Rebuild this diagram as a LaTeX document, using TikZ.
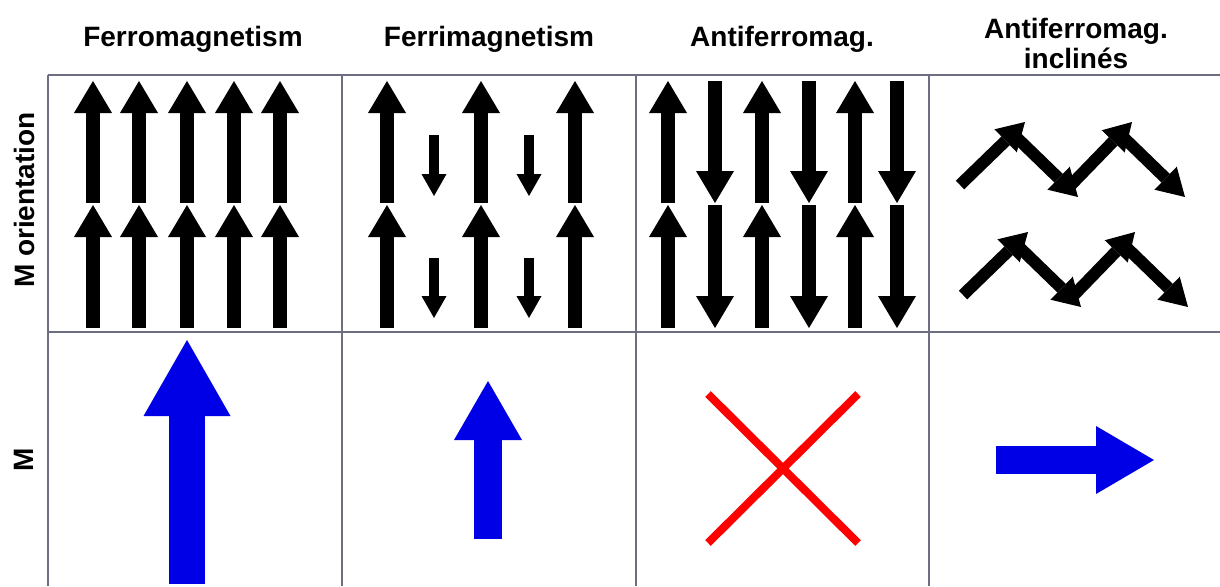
\documentclass[tikz,border=0pt]{standalone}
\usepackage{fontspec}
\setmainfont{Liberation Sans}
\usetikzlibrary{arrows.meta}
\definecolor{grille}{RGB}{110,110,130}
\definecolor{bleuM}{RGB}{0,0,230}
\begin{document}
\begin{tikzpicture}[x=1pt, y=-1pt,
                    titre/.style={font=\fontsize{28}{30}\selectfont\bfseries, align=center, inner sep=0pt},
                    trait/.style={grille, line width=1.5pt},
                    spin/.style={line width=14pt, -{Triangle[length=32pt, width=38pt, line width=0pt]}},
                    petitspin/.style={line width=10pt, -{Triangle[length=22pt, width=25pt, line width=0pt]}},
                    spinincl/.style={line width=12pt, -{Triangle[length=27pt, width=32pt, line width=0pt]}},
                    resultante/.style={bleuM, -{Triangle[length=#1, width=68pt, line width=0pt]}}
                ]
                \useasboundingbox (0,0) rectangle (1220,586);

                % Titres des colonnes et des lignes
                \node[titre, anchor=base] (titreFerro) at (193,47) {Ferromagnetism};
                \node[titre, anchor=base] (titreFerri) at (489,47) {Ferrimagnetism};
                \node[titre, anchor=base] (titreAF) at (782,47) {Antiferromag.};
                \node[titre, anchor=base] (titreIncl) at (1076,68) {Antiferromag.\\inclinés};
                \node[titre, rotate=90] (ligneOrient) at (24,200) {M orientation};
                \node[titre, rotate=90] (ligneM) at (24,460) {M};

                % Grille du tableau
                \draw[trait] (48,75) -- (1220,75) (48,332) -- (1220,332);
                \foreach \x in {48,342,636,929}
                    \draw[trait] (\x,75) -- (\x,586);

                % Ferromagnetisme : tous les spins paralleles
                \foreach \x in {93,139,187,234,280} {
                    \draw[spin] (\x,203) -- (\x,81);
                    \draw[spin] (\x,328) -- (\x,205);
                }
                \draw[bleuM, line width=36pt, -{Triangle[length=76pt, width=87pt, line width=0pt]}] (187,584) -- (187,340);

                % Ferrimagnetisme : spins opposes de tailles differentes
                \foreach \x in {387,481,575} {
                    \draw[spin] (\x,203) -- (\x,81);
                    \draw[spin] (\x,328) -- (\x,205);
                }
                \foreach \x in {434,529} {
                    \draw[petitspin] (\x,135) -- (\x,196);
                    \draw[petitspin] (\x,258) -- (\x,318);
                }
                \draw[resultante=59pt, line width=28pt] (488,539) -- (488,381);

                % Antiferromagnetisme : aimantation nulle
                \foreach \x in {668,762,855} {
                    \draw[spin] (\x,203) -- (\x,81);
                    \draw[spin] (\x,328) -- (\x,205);
                }
                \foreach \x in {715,809,897} {
                    \draw[spin] (\x,81) -- (\x,203);
                    \draw[spin] (\x,205) -- (\x,328);
                }
                \draw[red, line width=8pt] (708,394) -- (858,543) (858,394) -- (708,543);

                % Antiferromagnetisme incline
                \foreach \dx/\dy in {0/0, 3/110} {
                    \begin{scope}[shift={(\dx,\dy)}]
                        \draw[spinincl] (960,185) -- (1025,122);
                        \draw[spinincl] (1014,135) -- (1078,197);
                        \draw[spinincl] (1068,188) -- (1132,122);
                        \draw[spinincl] (1121,135) -- (1185,197);
                    \end{scope}
                }
                \draw[resultante=58pt, line width=28pt] (996,460) -- (1154,460);
                \end{tikzpicture}
\end{document}
